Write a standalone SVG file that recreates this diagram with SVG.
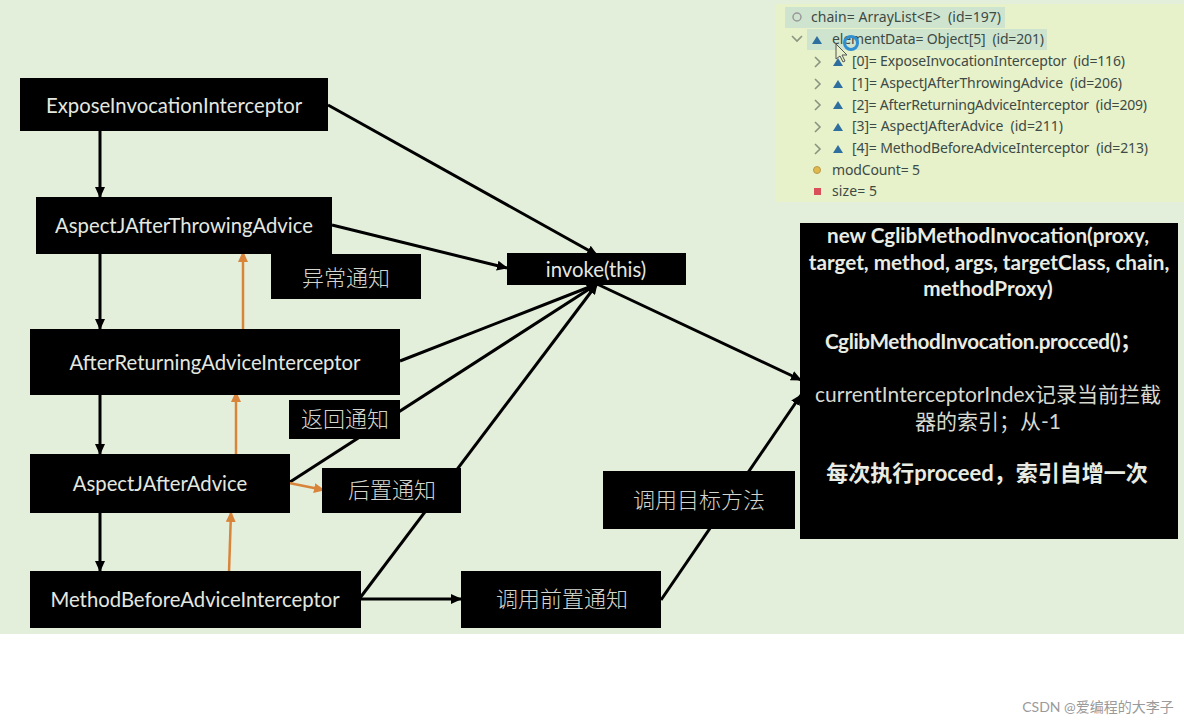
<svg xmlns="http://www.w3.org/2000/svg" width="1184" height="720" viewBox="0 0 1184 720">
<style>
text{font-family:"Lato","Noto Sans CJK SC",sans-serif}
.box{fill:#000}
.n{fill:#e4e8e0;font-size:20.3px;text-anchor:middle}
.c{fill:#d4d6ce;font-size:22px;text-anchor:middle;font-family:"Noto Sans CJK SC",sans-serif;font-weight:300}
.b{fill:#e8ece4;font-size:20.7px;font-weight:700;text-anchor:middle}
.r{fill:#d6d9d0;font-size:21px;text-anchor:middle}
.k{stroke:#000;stroke-width:3;fill:none}
.o{stroke:#d9843b;stroke-width:2.5;fill:none}
.d{fill:#3d4a45;font-size:14px;font-family:"Noto Sans",sans-serif;white-space:pre}
.t{fill:#2f6f9f}
.ch{fill:none;stroke:#8a9480;stroke-width:1.6}
</style>
<defs>
<marker id="ak" markerUnits="userSpaceOnUse" markerWidth="11" markerHeight="10" refX="10" refY="5" orient="auto"><path d="M0 0L11 5L0 10z" fill="#000"/></marker>
<marker id="ao" markerUnits="userSpaceOnUse" markerWidth="11" markerHeight="10" refX="10" refY="5" orient="auto"><path d="M0 0L11 5L0 10z" fill="#d9843b"/></marker>
</defs>
<rect width="1184" height="720" fill="#fff"/>
<rect width="1184" height="634" fill="#e3efdb"/>
<g id="debug-panel">
<rect x="776" y="4" width="408" height="198" fill="#e7f1ca"/>
<rect x="785" y="7" width="220" height="21" fill="#cfe4cf"/>
<rect x="807" y="29" width="240" height="21" fill="#cfe4cf"/>
<circle cx="797" cy="17" r="4" fill="none" stroke="#999" stroke-width="1.5"/>
<path class="ch" d="M792 36l5 5l5-5M815 57l5 5l-5 5M815 79l5 5l-5 5M815 100l5 5l-5 5M815 122l5 5l-5 5M815 144l5 5l-5 5"/>
<path class="t" d="M812 44l5-8l5 8zM833 66l5-8l5 8zM833 88l5-8l5 8zM833 109l5-8l5 8zM833 131l5-8l5 8zM833 153l5-8l5 8z"/>
<circle cx="817" cy="170" r="3.5" fill="#e0b84c" stroke="#b89a4a"/>
<rect x="814" y="188" width="7" height="7" fill="#d9505a"/>
<text class="d" x="811" y="22" textLength="190">chain= ArrayList&lt;E&gt;  (id=197)</text>
<text class="d" x="832" y="44" textLength="212">elementData= Object[5]  (id=201)</text>
<text class="d" x="852" y="66" textLength="273">[0]= ExposeInvocationInterceptor  (id=116)</text>
<text class="d" x="852" y="88" textLength="270">[1]= AspectJAfterThrowingAdvice  (id=206)</text>
<text class="d" x="852" y="110" textLength="295">[2]= AfterReturningAdviceInterceptor  (id=209)</text>
<text class="d" x="852" y="131" textLength="211">[3]= AspectJAfterAdvice  (id=211)</text>
<text class="d" x="852" y="153" textLength="296">[4]= MethodBeforeAdviceInterceptor  (id=213)</text>
<text class="d" x="832" y="175" textLength="88">modCount= 5</text>
<text class="d" x="832" y="196" textLength="45">size= 5</text>
<circle cx="851" cy="43" r="6.5" fill="none" stroke="#2f8fd0" stroke-width="3"/>
<path d="M836 44v15l4-3l3 6l2-1l-3-6h5z" fill="#e7f1ca" stroke="#555" stroke-width="1"/>
</g>
<g id="connectors">
<path class="k" marker-end="url(#ak)" d="M100 131V197"/>
<path class="k" marker-end="url(#ak)" d="M100 254V329"/>
<path class="k" marker-end="url(#ak)" d="M100 395V454"/>
<path class="k" marker-end="url(#ak)" d="M100 513V571"/>
<path class="k" marker-end="url(#ak)" d="M328 105L597 255"/>
<path class="k" marker-end="url(#ak)" d="M332 225L507 268"/>
<path class="k" marker-end="url(#ak)" d="M400 361L597 284"/>
<path class="k" marker-end="url(#ak)" d="M290 482L597 284"/>
<path class="k" marker-end="url(#ak)" d="M360 598L597 284"/>
<path class="k" marker-end="url(#ak)" d="M597 284L801 380"/>
<path class="k" marker-end="url(#ak)" d="M661 600L801 395"/>
<path class="k" marker-end="url(#ak)" d="M360 599H461"/>
<path class="o" marker-end="url(#ao)" d="M243 330V252"/>
<path class="o" marker-end="url(#ao)" d="M236 454V392"/>
<path class="o" marker-end="url(#ao)" d="M229 572L231 512"/>
<path class="o" marker-end="url(#ao)" d="M289 483L324 490"/>
</g>
<g id="expose"><rect class="box" x="20" y="78" width="308" height="53"/><text class="n" x="174" y="113">ExposeInvocationInterceptor</text></g>
<g id="throwing"><rect class="box" x="36" y="197" width="296" height="57"/><text class="n" x="184" y="233">AspectJAfterThrowingAdvice</text></g>
<g id="returning"><rect class="box" x="30" y="329" width="370" height="66"/><text class="n" x="215" y="370">AfterReturningAdviceInterceptor</text></g>
<g id="after"><rect class="box" x="30" y="454" width="260" height="59"/><text class="n" x="160" y="491">AspectJAfterAdvice</text></g>
<g id="before"><rect class="box" x="30" y="571" width="331" height="57"/><text class="n" x="195" y="607">MethodBeforeAdviceInterceptor</text></g>
<g id="invoke"><rect class="box" x="507" y="253" width="179" height="32"/><text class="n" x="596" y="277">invoke(this)</text></g>
<g id="label-throw"><rect class="box" x="271" y="254" width="150" height="45"/><text class="c" x="346" y="286">异常通知</text></g>
<g id="label-return"><rect class="box" x="289" y="400" width="111" height="39"/><text class="c" x="345" y="427">返回通知</text></g>
<g id="label-after"><rect class="box" x="322" y="468" width="139" height="45"/><text class="c" x="392" y="498">后置通知</text></g>
<g id="label-target"><rect class="box" x="603" y="471" width="192" height="58"/><text class="c" x="699" y="508">调用目标方法</text></g>
<g id="label-before"><rect class="box" x="461" y="571" width="200" height="57"/><text class="c" x="562" y="607">调用前置通知</text></g>
<g id="invocation"><rect class="box" x="800" y="223" width="378" height="316"/>
<text class="b" x="988" y="243">new CglibMethodInvocation(proxy,</text>
<text class="b" x="989" y="270">target, method, args, targetClass, chain,</text>
<text class="b" x="988" y="296">methodProxy)</text>
<text class="b" x="983" y="349" textLength="316">CglibMethodInvocation.procced()；</text>
<text class="r" x="988" y="402">currentInterceptorIndex记录当前拦截</text>
<text class="r" x="988" y="429">器的索引；从-1</text>
<text class="b" x="987" y="481" style="font-size:22px">每次执行proceed，索引自增一次</text></g>
<text x="1098" y="712" fill="#9a9a9a" font-size="14" text-anchor="middle">CSDN @爱编程的大李子</text>
</svg>
